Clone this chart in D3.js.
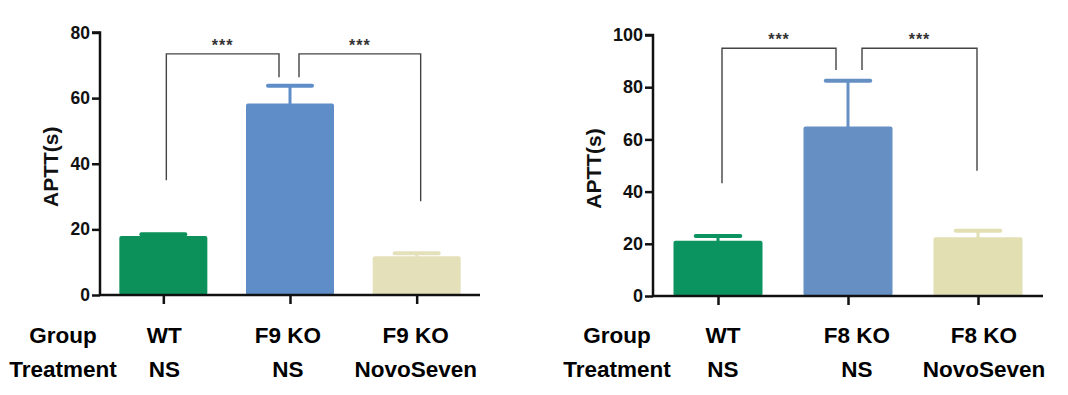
<!DOCTYPE html>
<html>
<head>
<meta charset="utf-8">
<script src="https://cdn.jsdelivr.net/npm/d3@7"></script>
<style>
  html, body { margin: 0; padding: 0; background: #fff; }
  svg { display: block; font-family: "Liberation Sans", Arial, sans-serif; }
</style>
</head>
<body>
<svg id="chart" width="1068" height="395"></svg>
<script>
// ---- data ----
const rowLabels = ["Group", "Treatment"];
const groupsA = ["WT", "F9 KO", "F9 KO"];
const treatA = ["NS", "NS", "NovoSeven"];
const meanA = [18.0, 58.4, 11.8];
const semA = [0.5, 5.4, 0.9];
const ticksA = [0, 20, 40, 60, 80];
const bracketsA = [
  { from: 0, to: 1, top: 73.5, legFrom: 35.0, legTo: 66.4, label: "***" },
  { from: 1, to: 2, top: 73.5, legFrom: 66.4, legTo: 28.6, label: "***" }
];

const groupsB = ["WT", "F8 KO", "F8 KO"];
const treatB = ["NS", "NS", "NovoSeven"];
const meanB = [21.2, 64.9, 22.5];
const semB = [1.8, 17.6, 2.5];
const ticksB = [0, 20, 40, 60, 80, 100];
const bracketsB = [
  { from: 0, to: 1, top: 94.9, legFrom: 43.2, legTo: 86.6, label: "***" },
  { from: 1, to: 2, top: 94.9, legFrom: 86.6, legTo: 48.0, label: "***" }
];

const colorsA = ["#0b9159", "#5e8dc8", "#e3e0ba"];
const colorsB = ["#0b9460", "#6690c4", "#e2e0b3"];

const svg = d3.select("#chart");

function panel(cfg) {
  const g = svg.append("g");
  const idx = d3.range(cfg.groups.length);
  const x = d3.scalePoint().domain(idx).range([cfg.x0, cfg.x1]).padding(0.5);
  const y = d3.scaleLinear().domain([0, cfg.ymax]).range([cfg.yb, cfg.yt]);

  // bars
  g.selectAll("rect.bar").data(idx).enter().append("rect")
    .attr("x", i => x(i) - cfg.bw / 2)
    .attr("y", i => y(cfg.mean[i]))
    .attr("width", cfg.bw)
    .attr("height", i => y(0) - y(cfg.mean[i]))
    .attr("rx", 2)
    .attr("fill", i => cfg.colors[i]);

  // error bars
  idx.forEach(i => {
    const top = y(cfg.mean[i] + cfg.sem[i]);
    g.append("line")
      .attr("x1", x(i)).attr("x2", x(i))
      .attr("y1", y(cfg.mean[i]) + 1).attr("y2", top)
      .attr("stroke", cfg.colors[i]).attr("stroke-width", 3);
    g.append("line")
      .attr("x1", x(i) - cfg.bw / 4).attr("x2", x(i) + cfg.bw / 4)
      .attr("y1", top).attr("y2", top)
      .attr("stroke", cfg.colors[i]).attr("stroke-width", 4)
      .attr("stroke-linecap", "round");
  });

  // brackets
  cfg.brackets.forEach((b, k) => {
    const xa = x(b.from) + cfg.bOff[k][0];
    const xb = x(b.to) + cfg.bOff[k][1];
    g.append("path")
      .attr("d", `M${xa},${y(b.legFrom)}V${y(b.top)}H${xb}V${y(b.legTo)}`)
      .attr("fill", "none").attr("stroke", "#444").attr("stroke-width", 1.4);
    g.append("text")
      .attr("x", (xa + xb) / 2).attr("y", y(b.top) - 3)
      .attr("text-anchor", "middle")
      .attr("font-size", 16).attr("font-weight", "bold").attr("fill", "#333")
      .attr("letter-spacing", 1)
      .text(b.label);
  });

  // y axis
  const ya = g.append("g").attr("transform", `translate(${cfg.x0},0)`)
    .call(d3.axisLeft(y).tickValues(cfg.ticks).tickSize(8).tickPadding(2));
  ya.select(".domain").attr("d", `M-8,${y(cfg.ymax)}H0V${y(0)}`)
    .attr("stroke", "#111").attr("stroke-width", 2.5);
  ya.selectAll(".tick line").attr("stroke", "#111").attr("stroke-width", 2.5);
  ya.selectAll(".tick text").attr("font-size", cfg.tickFs).attr("font-weight", "bold")
    .attr("fill", "#111").attr("font-family", "Liberation Sans, Arial, sans-serif");

  // x axis
  const xa = g.append("g").attr("transform", `translate(0,${cfg.yb})`)
    .call(d3.axisBottom(x).tickSize(9).tickFormat(""));
  xa.select(".domain").attr("d", `M${cfg.x0},0H${cfg.x1}`)
    .attr("stroke", "#111").attr("stroke-width", 2.5);
  xa.selectAll(".tick line").attr("stroke", "#111").attr("stroke-width", 2.5);

  // y label
  g.append("text")
    .attr("transform", `translate(${cfg.ylabX},${(y(0) + y(cfg.ymax)) / 2 + 3}) rotate(-90)`)
    .attr("text-anchor", "middle")
    .attr("font-size", 21).attr("font-weight", "bold").attr("fill", "#111")
    .text("APTT(s)");

  // category rows
  const rows = [cfg.groups, cfg.treat];
  rows.forEach((arr, r) => {
    g.append("text")
      .attr("x", cfg.rowLabX).attr("y", cfg.rowY[r])
      .attr("text-anchor", "middle")
      .attr("font-size", 22.5).attr("font-weight", "bold").attr("fill", "#000")
      .text(rowLabels[r]);
    arr.forEach((t, i) => {
      g.append("text")
        .attr("x", x(i) + cfg.labOff[i]).attr("y", cfg.rowY[r])
        .attr("text-anchor", "middle")
        .attr("font-size", 22.5).attr("font-weight", "bold").attr("fill", "#000")
        .text(t);
    });
  });
}

panel({
  groups: groupsA, treat: treatA, mean: meanA, sem: semA, ticks: ticksA,
  brackets: bracketsA, colors: colorsA, ymax: 80,
  x0: 100, x1: 480, yb: 295, yt: 32.5, bw: 88, tickFs: 17.5,
  bOff: [[3, -11], [9, 4]], ylabX: 58, rowLabX: 63, rowY: [343, 377],
  labOff: [1, -2, -1]
});

panel({
  groups: groupsB, treat: treatB, mean: meanB, sem: semB, ticks: ticksB,
  brackets: bracketsB, colors: colorsB, ymax: 100,
  x0: 653, x1: 1043, yb: 296, yt: 35, bw: 89, tickFs: 18,
  bOff: [[4, -12], [14, -1]], ylabX: 601, rowLabX: 617, rowY: [343, 377],
  labOff: [5, 9, 6]
});
</script>
</body>
</html>
